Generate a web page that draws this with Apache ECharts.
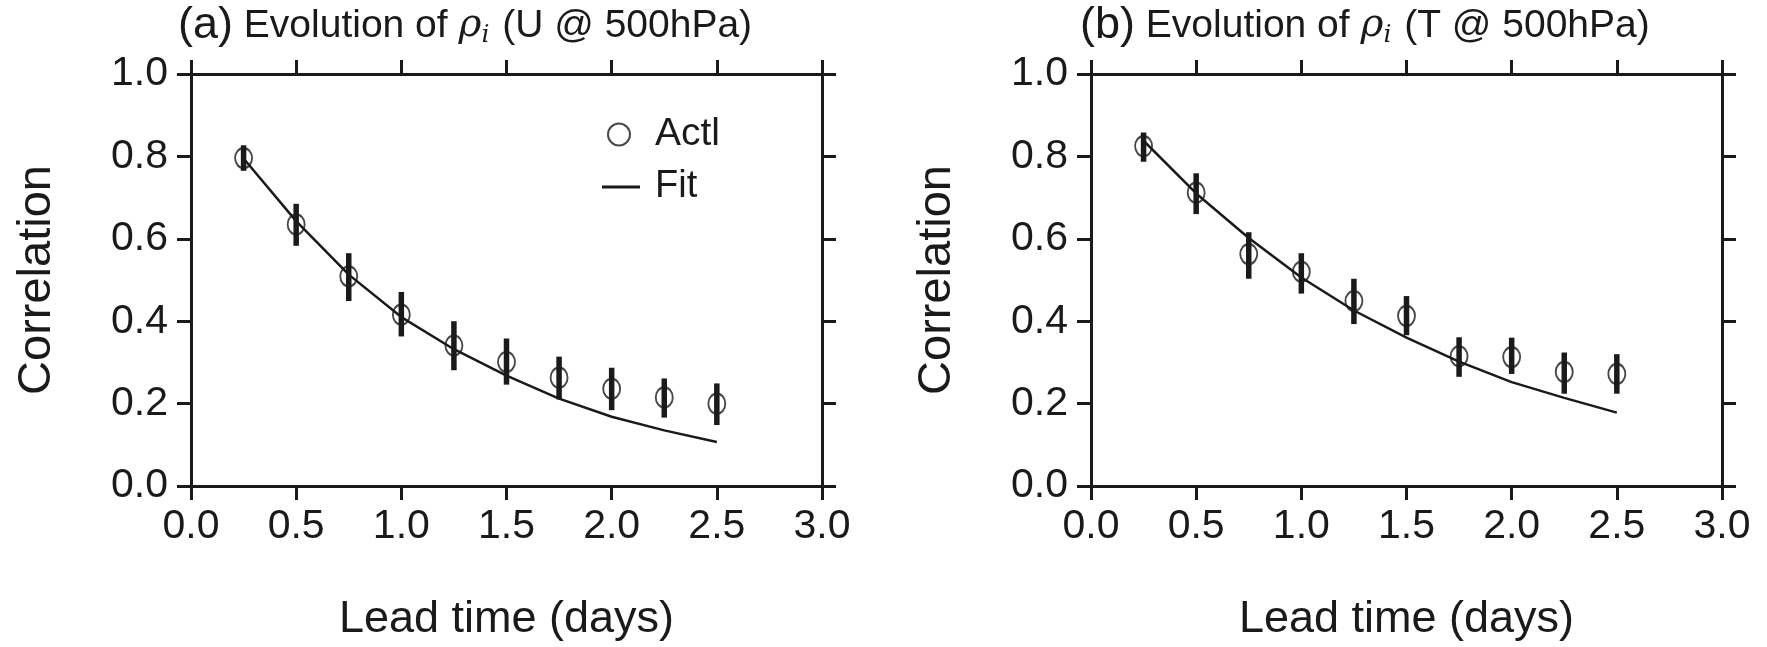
<!DOCTYPE html>
<html>
<head>
<meta charset="utf-8">
<script src="https://cdn.jsdelivr.net/npm/echarts@6/dist/echarts.min.js"></script>
<style>
    html, body { margin: 0; padding: 0; background: #fff; }
    #chart { width: 1767px; height: 647px; }
</style>
</head>
<body>
<div id="chart"></div>
<script>
// Lead times (days)
const leadTime = [0.25, 0.5, 0.75, 1.0, 1.25, 1.5, 1.75, 2.0, 2.25, 2.5];

// (a) U @ 500hPa
const actlU   = [0.796, 0.635, 0.509, 0.416, 0.341, 0.301, 0.263, 0.236, 0.215, 0.200];
const actlULo = [0.765, 0.583, 0.449, 0.363, 0.281, 0.246, 0.210, 0.184, 0.166, 0.148];
const actlUHi = [0.827, 0.685, 0.565, 0.471, 0.400, 0.358, 0.314, 0.287, 0.261, 0.249];
const fitU    = [0.795, 0.643, 0.513, 0.410, 0.332, 0.268, 0.212, 0.168, 0.135, 0.107];

// (b) T @ 500hPa
const actlT   = [0.825, 0.712, 0.563, 0.520, 0.449, 0.413, 0.315, 0.313, 0.277, 0.272];
const actlTLo = [0.787, 0.660, 0.503, 0.467, 0.393, 0.366, 0.265, 0.272, 0.224, 0.224];
const actlTHi = [0.858, 0.759, 0.616, 0.565, 0.503, 0.461, 0.361, 0.360, 0.324, 0.320];
const fitT    = [0.838, 0.710, 0.602, 0.506, 0.426, 0.360, 0.302, 0.252, 0.214, 0.178];

const xTicks = [0, 0.5, 1.0, 1.5, 2.0, 2.5, 3.0];
const yTicks = [0, 0.2, 0.4, 0.6, 0.8, 1.0];

const FONT = "'Liberation Sans', Arial, Helvetica, sans-serif";
const INK = '#1a1a1a';

const chart = echarts.init(document.getElementById('chart'));

const lineStyle = { color: INK, width: 3 };
const tickStyle = { show: true, inside: false, length: 14, lineStyle: { color: INK, width: 3 } };

// four axes per panel: labelled bottom/left, bare top/right
function makeAxes(gridIndex) {
    const xAxes = [
        {
            gridIndex, type: 'value', position: 'bottom',
            min: xTicks[0], max: xTicks[xTicks.length - 1], interval: 0.5,
            axisLine: { show: true, onZero: false, lineStyle }, axisTick: tickStyle,
            splitLine: { show: false },
            axisLabel: { margin: 20, fontSize: 41, color: INK, fontFamily: FONT, formatter: v => v.toFixed(1) },
            name: 'Lead time (days)', nameLocation: 'middle', nameGap: 111,
            nameTextStyle: { fontSize: 45, color: INK, fontFamily: FONT }
        },
        {
            gridIndex, type: 'value', position: 'top',
            min: xTicks[0], max: xTicks[xTicks.length - 1], interval: 0.5,
            axisLine: { show: true, onZero: false, lineStyle }, axisTick: tickStyle,
            splitLine: { show: false }, axisLabel: { show: false }
        }
    ];
    const yAxes = [
        {
            gridIndex, type: 'value', position: 'left',
            min: yTicks[0], max: yTicks[yTicks.length - 1], interval: 0.2,
            axisLine: { show: true, onZero: false, lineStyle }, axisTick: tickStyle,
            splitLine: { show: false },
            axisLabel: { margin: 23, fontSize: 41, color: INK, fontFamily: FONT, formatter: v => v.toFixed(1) },
            name: 'Correlation', nameLocation: 'middle', nameGap: 130,
            nameTextStyle: { fontSize: 47, color: INK, fontFamily: FONT }
        },
        {
            gridIndex, type: 'value', position: 'right',
            min: yTicks[0], max: yTicks[yTicks.length - 1], interval: 0.2,
            axisLine: { show: true, onZero: false, lineStyle }, axisTick: tickStyle,
            splitLine: { show: false }, axisLabel: { show: false }
        }
    ];
    return { xAxes, yAxes };
}

function errorBarSeries(axisIdx, lo, hi) {
    return {
        type: 'custom',
        xAxisIndex: axisIdx, yAxisIndex: axisIdx,
        data: leadTime.map((x, i) => [x, lo[i], hi[i]]),
        encode: { x: 0, y: [1, 2] },
        renderItem: (params, api) => {
            const p1 = api.coord([api.value(0), api.value(1)]);
            const p2 = api.coord([api.value(0), api.value(2)]);
            return {
                type: 'line',
                shape: { x1: p1[0], y1: p1[1], x2: p2[0], y2: p2[1] },
                style: { stroke: INK, lineWidth: 5.5 }
            };
        },
        silent: true, z: 3
    };
}

function panelSeries(axisIdx, actl, lo, hi, fit) {
    return [
        errorBarSeries(axisIdx, lo, hi),
        {
            name: 'Actl', type: 'scatter',
            xAxisIndex: axisIdx, yAxisIndex: axisIdx,
            data: leadTime.map((x, i) => [x, actl[i]]),
            symbol: 'circle', symbolSize: [17, 20],
            itemStyle: { color: 'transparent', borderColor: INK, borderWidth: 2 },
            z: 4
        },
        {
            name: 'Fit', type: 'line',
            xAxisIndex: axisIdx, yAxisIndex: axisIdx,
            data: leadTime.map((x, i) => [x, fit[i]]),
            symbol: 'none', smooth: false,
            lineStyle: { color: INK, width: 2.5 },
            itemStyle: { color: INK },
            z: 2
        }
    ];
}

const a = makeAxes(0);
const b = makeAxes(1);

function titleText(tag, varName) {
    return '{p|(' + tag + ')}{t| Evolution of }{r|ρ}{s|i}{t| (' + varName + ' @ 500hPa)}';
}
const titleRich = {
    p: { fontSize: 45, fontWeight: 'normal', color: INK, fontFamily: FONT, lineHeight: 52, verticalAlign: 'middle' },
    t: { fontSize: 39, fontWeight: 'normal', color: INK, fontFamily: FONT, lineHeight: 52, verticalAlign: 'middle' },
    r: { fontSize: 39, fontWeight: 'normal', color: INK, fontFamily: "'DejaVu Serif', serif", fontStyle: 'italic', lineHeight: 52, verticalAlign: 'middle' },
    s: { fontSize: 25, fontWeight: 'normal', color: INK, fontFamily: "'DejaVu Serif', serif", fontStyle: 'italic', lineHeight: 52, verticalAlign: 'middle', padding: [18, 2, 0, 0] }
};

const option = {
    backgroundColor: '#fff',
    animation: false,
    title: [
        { text: titleText('a', 'U'), left: 178, top: 0, padding: 0, textStyle: { fontWeight: 'normal', rich: titleRich } },
        { text: titleText('b', 'T'), left: 1080, top: 0, padding: 0, textStyle: { fontWeight: 'normal', rich: titleRich } }
    ],
    legend: [
        {
            data: ['Actl'], left: 607, top: 115, padding: 0,
            icon: 'circle', itemWidth: 22, itemHeight: 22,
            itemStyle: { color: 'transparent', borderColor: INK, borderWidth: 2 },
            textStyle: { fontSize: 39, color: INK, fontFamily: FONT, padding: [0, 0, 0, 20] },
            selectedMode: false
        },
        {
            data: ['Fit'], left: 602, top: 168, padding: 0,
            icon: 'rect', itemWidth: 38, itemHeight: 3,
            itemStyle: { color: INK },
            textStyle: { fontSize: 38, color: INK, fontFamily: FONT, padding: [0, 0, 0, 10] },
            selectedMode: false
        }
    ],
    grid: [
        { left: 191, top: 74, width: 631, height: 420 },
        { left: 1091, top: 74, width: 631, height: 420 }
    ],
    xAxis: [...a.xAxes, ...b.xAxes],
    yAxis: [...a.yAxes, ...b.yAxes],
    series: [
        ...panelSeries(0, actlU, actlULo, actlUHi, fitU),
        ...panelSeries(2, actlT, actlTLo, actlTHi, fitT)
    ]
};

chart.setOption(option);
</script>
</body>
</html>
